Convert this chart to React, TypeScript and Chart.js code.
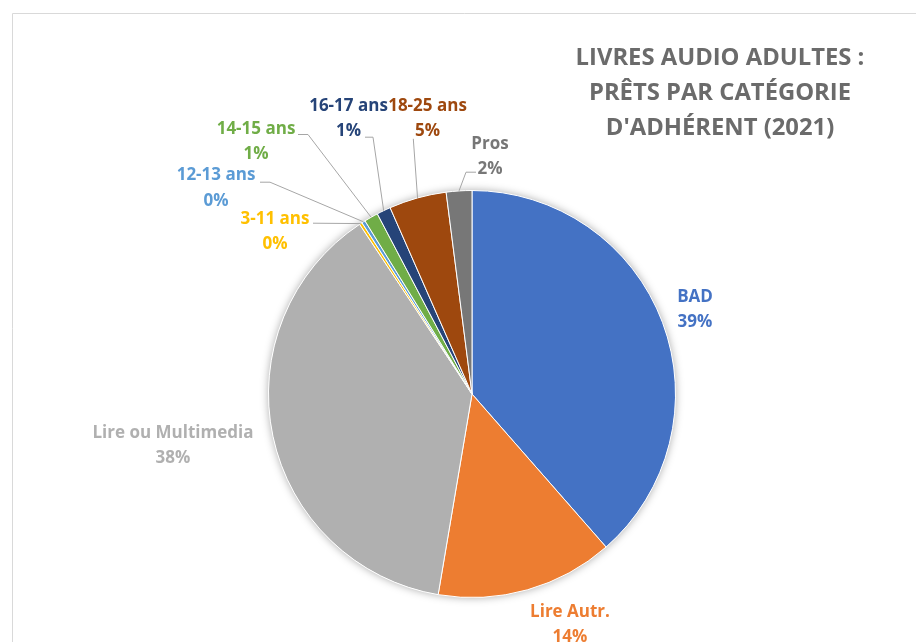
import React, { useEffect, useRef } from 'react';
import { Chart, registerables } from 'chart.js';

Chart.register(...registerables);

// ---- data ----
const categories = ['BAD', 'Lire Autr.', 'Lire ou Multimedia', '3-11 ans', '12-13 ans', '14-15 ans', '16-17 ans', '18-25 ans', 'Pros'];
const shares = [38.55, 14.11, 38.03, 0.22, 0.28, 1.11, 1.11, 4.56, 2.03];
const sliceColors = ['#4472C4', '#ED7D31', '#B0B0B0', '#FFC000', '#5B9BD5', '#70AD47', '#264478', '#9E480E', '#777777'];
const titleLines = ['LIVRES AUDIO ADULTES :', 'PRÊTS PAR CATÉGORIE', "D'ADHÉRENT (2021)"];

const FONT = '"Open Sans", Lato, "Noto Sans", sans-serif';

// label block placement relative to the pie centre (px), plus optional leader geometry relative to label centre
type Layout = { dx: number; dy: number; end?: [number, number]; elbow?: [number, number] };
const labelLayout: Layout[] = [
  { dx: 223, dy: -84.5 },
  { dx: 98, dy: 230.5 },
  { dx: -299, dy: 51.5 },
  { dx: -197, dy: -162.5, end: [38, -8.3] },
  { dx: -256, dy: -206, end: [44, -5.8], elbow: [54, -5.8] },
  { dx: -216, dy: -252.2, end: [42, -7.3], elbow: [52, -7.3] },
  { dx: -123.5, dy: -275.2, end: [16.5, 18.4], elbow: [24.5, 18.4] },
  { dx: -44.5, dy: -275.2, end: [-14.2, 20] },
  { dx: 18, dy: -237.5, end: [-14, 15.7], elbow: [-24, 15.7] },
];

const excelPiePlugin = {
  id: 'excelPie',
  beforeDraw(chart: any) {
    const ctx = chart.ctx;
    ctx.save();
    ctx.strokeStyle = '#d9d9d9';
    ctx.lineWidth = 1;
    ctx.beginPath();
    ctx.moveTo(12.5, 3000);
    ctx.lineTo(12.5, 13.5);
    ctx.lineTo(3000, 13.5);
    ctx.stroke();
    ctx.restore();
  },
  beforeDatasetsDraw(chart: any) {
    const meta = chart.getDatasetMeta(0);
    const arc = meta.data[0];
    if (!arc) return;
    const { x, y, outerRadius } = arc.getProps(['x', 'y', 'outerRadius'], true);
    const ctx = chart.ctx;
    ctx.save();
    ctx.shadowColor = 'rgba(0,0,0,0.35)';
    ctx.shadowBlur = 9;
    ctx.fillStyle = '#ffffff';
    ctx.beginPath();
    ctx.arc(x, y, outerRadius, 0, Math.PI * 2);
    ctx.fill();
    ctx.restore();
  },
  afterDatasetsDraw(chart: any) {
    const ctx = chart.ctx;
    const meta = chart.getDatasetMeta(0);
    const data: number[] = chart.data.datasets[0].data;
    const total = data.reduce((a, b) => a + b, 0);
    const colors: string[] = chart.data.datasets[0].backgroundColor;
    meta.data.forEach((el: any, i: number) => {
      const { x, y, outerRadius, startAngle, endAngle } = el.getProps(['x', 'y', 'outerRadius', 'startAngle', 'endAngle'], true);
      const lay = labelLayout[i];
      const cx = x + lay.dx;
      const cy = y + lay.dy;
      if (lay.end) {
        const mid = (startAngle + endAngle) / 2;
        const ax = x + Math.cos(mid) * outerRadius;
        const ay = y + Math.sin(mid) * outerRadius;
        ctx.save();
        ctx.strokeStyle = '#a6a6a6';
        ctx.lineWidth = 1;
        ctx.beginPath();
        ctx.moveTo(cx + lay.end[0], cy + lay.end[1]);
        if (lay.elbow) ctx.lineTo(cx + lay.elbow[0], cy + lay.elbow[1]);
        ctx.lineTo(ax, ay);
        ctx.stroke();
        ctx.restore();
      }
      ctx.save();
      ctx.fillStyle = colors[i];
      ctx.font = `bold 17px ${FONT}`;
      ctx.textAlign = 'center';
      ctx.textBaseline = 'middle';
      ctx.fillText(chart.data.labels[i], cx, cy - 12.75);
      ctx.fillText(Math.round((data[i] / total) * 100) + '%', cx, cy + 12.75);
      ctx.restore();
    });

    // title
    ctx.save();
    ctx.fillStyle = '#6b6b6b';
    ctx.font = `bold 23.8px ${FONT}`;
    ctx.textAlign = 'center';
    ctx.textBaseline = 'middle';
    titleLines.forEach((t, k) => ctx.fillText(t, 720, 58 + k * 35));
    ctx.restore();
  },
};

export default function App() {
  const ref = useRef<HTMLCanvasElement | null>(null);
  useEffect(() => {
    if (!ref.current) return;
    const chart = new Chart(ref.current, {
      type: 'pie',
      data: {
        labels: categories,
        datasets: [
          {
            data: shares,
            backgroundColor: sliceColors,
            borderColor: '#ffffff',
            borderWidth: 1,
          },
        ],
      },
      options: {
        responsive: false,
        animation: false,
        layout: { padding: { left: 268, top: 190, right: 240, bottom: 44 } },
        plugins: {
          legend: { display: false },
          title: { display: false },
          tooltip: { enabled: false },
        },
      },
      plugins: [excelPiePlugin],
    });
    return () => chart.destroy();
  }, []);
  return (
    <canvas
      ref={ref}
      width={916}
      height={642}
      style={{ display: 'block', position: 'fixed', left: 0, top: 0 }}
    />
  );
}
